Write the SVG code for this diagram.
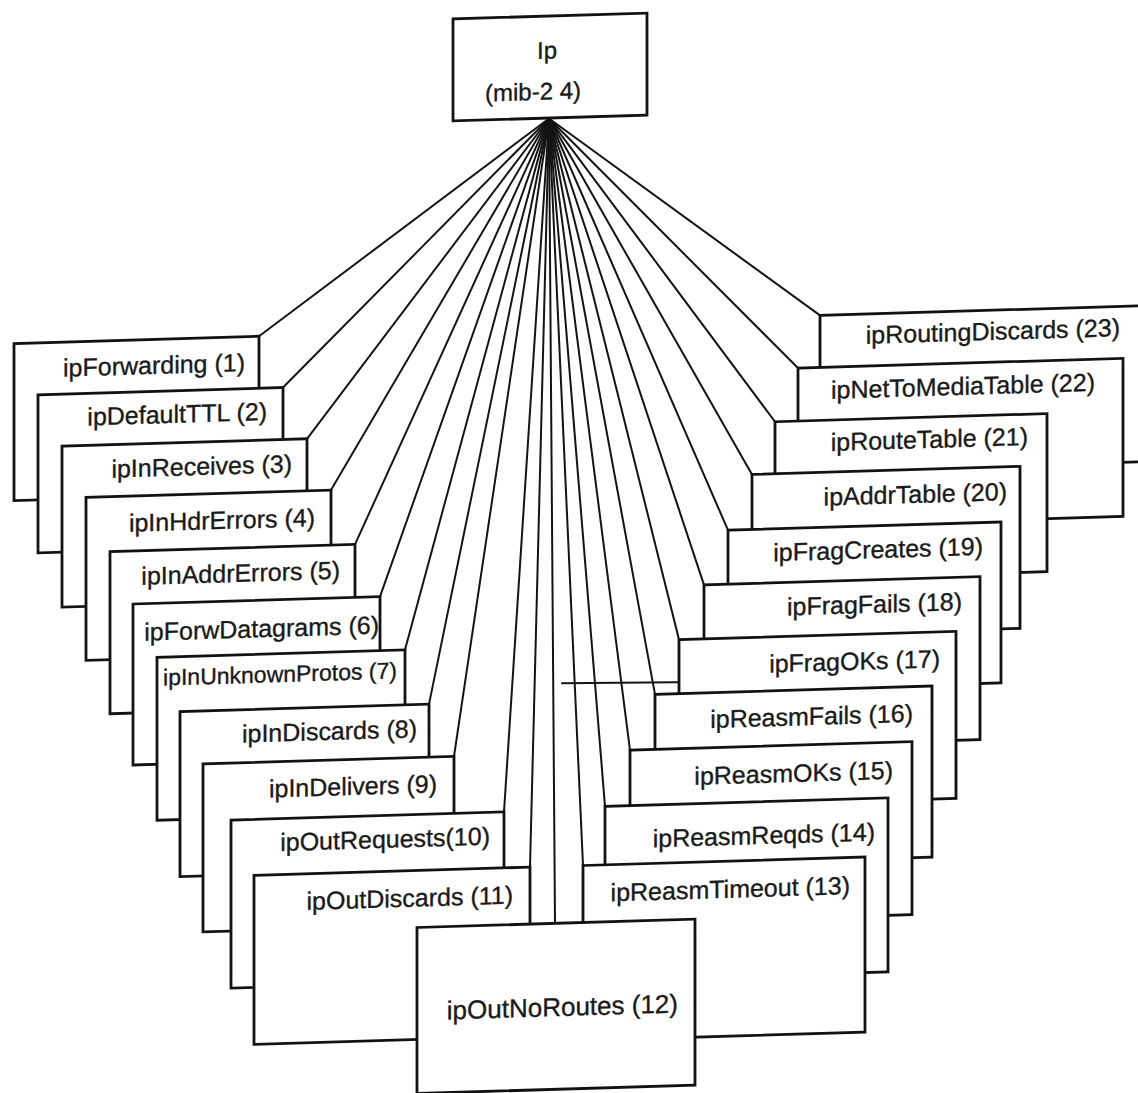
<svg xmlns="http://www.w3.org/2000/svg" width="1138" height="1093" viewBox="0 0 1138 1093">
  <style>
    .box { fill: #ffffff; stroke: #121212; stroke-width: 2.8; }
    .lbl { font-family: "Liberation Sans", Arial, sans-serif; font-size: 25px; fill: #1a1a1a; stroke: #1a1a1a; stroke-width: 0.35; text-anchor: end; }
    .small { font-size: 23px; }
    .big { font-size: 26px; }
    .mid { text-anchor: middle; font-size: 24px; }
    .edge { stroke: #141414; stroke-width: 2; fill: none; stroke-linecap: round; }
  </style>
  <rect x="0" y="0" width="1138" height="1093" fill="#ffffff"/>

  <!-- the whole tree sits on a slightly sheared page -->
  <g transform="skewY(-1.718)">

    <!-- connectors: every child hangs from the bottom of the ip node -->
    <g id="connectors">
      <path class="edge" d="M549 135 L259 344"/>
      <path class="edge" d="M549 135 L283 396"/>
      <path class="edge" d="M549 135 L307 448"/>
      <path class="edge" d="M549 135 L331 500"/>
      <path class="edge" d="M549 135 L355 555"/>
      <path class="edge" d="M549 135 L380 608"/>
      <path class="edge" d="M549 135 L405 662"/>
      <path class="edge" d="M549 135 L429 717"/>
      <path class="edge" d="M549 135 L454 770"/>
      <path class="edge" d="M549 135 L504 827"/>
      <path class="edge" d="M549 135 L530 883"/>
      <path class="edge" d="M549 135 L555 940"/>
      <path class="edge" d="M549 135 L583 883"/>
      <path class="edge" d="M549 135 L605 824.5"/>
      <path class="edge" d="M549 135 L630 769"/>
      <path class="edge" d="M549 135 L655 714"/>
      <path class="edge" d="M549 135 L679 660"/>
      <path class="edge" d="M549 135 L704 606"/>
      <path class="edge" d="M549 135 L728 552"/>
      <path class="edge" d="M549 135 L752 497"/>
      <path class="edge" d="M549 135 L775 445"/>
      <path class="edge" d="M549 135 L798 392"/>
      <path class="edge" d="M549 135 L820 340"/>
      <path class="edge" d="M562 700 L703 703"/>
    </g>

    <!-- root -->
    <g id="node-ip">
      <rect class="box" x="453" y="32.5" width="194" height="102"/>
      <text class="lbl mid" x="547" y="75">Ip</text>
      <text class="lbl mid" x="533" y="116">(mib-2 4)</text>
    </g>

    <!-- right-hand stack, back to front -->
    <g id="node-23">
      <rect class="box" x="820" y="340" width="340" height="156"/>
      <text class="lbl" x="1120" y="369.7">ipRoutingDiscards (23)</text>
    </g>
    <g id="node-22">
      <rect class="box" x="798" y="392" width="325" height="158"/>
      <text class="lbl" x="1095" y="423.7">ipNetToMediaTable (22)</text>
    </g>
    <g id="node-21">
      <rect class="box" x="775" y="445" width="272" height="158"/>
      <text class="lbl" x="1028" y="475.8">ipRouteTable (21)</text>
    </g>
    <g id="node-20">
      <rect class="box" x="752" y="497" width="268" height="162"/>
      <text class="lbl" x="1007" y="530.3">ipAddrTable (20)</text>
    </g>
    <g id="node-19">
      <rect class="box" x="728" y="552" width="273" height="161"/>
      <text class="lbl" x="983" y="584.4">ipFragCreates (19)</text>
    </g>
    <g id="node-18">
      <rect class="box" x="704" y="606" width="276" height="163"/>
      <text class="lbl" x="962" y="639">ipFragFails (18)</text>
    </g>
    <g id="node-17">
      <rect class="box" x="679" y="660" width="277" height="167"/>
      <text class="lbl" x="940" y="695.5">ipFragOKs (17)</text>
    </g>
    <g id="node-16">
      <rect class="box" x="655" y="714" width="277" height="171"/>
      <text class="lbl" x="913" y="749.3">ipReasmFails (16)</text>
    </g>
    <g id="node-15">
      <rect class="box" x="630" y="769" width="282" height="173"/>
      <text class="lbl" x="893" y="805.7">ipReasmOKs (15)</text>
    </g>
    <g id="node-14">
      <rect class="box" x="605" y="824.5" width="283" height="174"/>
      <text class="lbl" x="875" y="866.8">ipReasmReqds (14)</text>
    </g>
    <g id="node-13">
      <rect class="box" x="583" y="883" width="282" height="175"/>
      <text class="lbl" x="850" y="919.6">ipReasmTimeout (13)</text>
    </g>

    <!-- left-hand stack, back to front -->
    <g id="node-1">
      <rect class="box" x="14" y="344" width="245" height="157"/>
      <text class="lbl" x="245" y="378.5">ipForwarding (1)</text>
    </g>
    <g id="node-2">
      <rect class="box" x="38" y="396" width="245" height="158"/>
      <text class="lbl" x="267" y="428">ipDefaultTTL (2)</text>
    </g>
    <g id="node-3">
      <rect class="box" x="62" y="448" width="245" height="161"/>
      <text class="lbl" x="292" y="481">ipInReceives (3)</text>
    </g>
    <g id="node-4">
      <rect class="box" x="86" y="500" width="245" height="163"/>
      <text class="lbl" x="315" y="535.6">ipInHdrErrors (4)</text>
    </g>
    <g id="node-5">
      <rect class="box" x="110" y="555" width="245" height="162"/>
      <text class="lbl" x="340" y="589">ipInAddrErrors (5)</text>
    </g>
    <g id="node-6">
      <rect class="box" x="133" y="608" width="247" height="161"/>
      <text class="lbl" x="379" y="645">ipForwDatagrams (6)</text>
    </g>
    <g id="node-7">
      <rect class="box" x="157" y="662" width="248" height="163"/>
      <text class="lbl small" x="397" y="690.4">ipInUnknownProtos (7)</text>
    </g>
    <g id="node-8">
      <rect class="box" x="180" y="717" width="249" height="165"/>
      <text class="lbl" x="417" y="749.8">ipInDiscards (8)</text>
    </g>
    <g id="node-9">
      <rect class="box" x="203" y="770" width="251" height="168"/>
      <text class="lbl" x="437" y="805.5">ipInDelivers (9)</text>
    </g>
    <g id="node-10">
      <rect class="box" x="231" y="827" width="273" height="168"/>
      <text class="lbl" x="490" y="859.4">ipOutRequests(10)</text>
    </g>
    <g id="node-11">
      <rect class="box" x="254" y="883" width="276" height="169"/>
      <text class="lbl" x="513" y="919">ipOutDiscards (11)</text>
    </g>

    <!-- front-most child -->
    <g id="node-12">
      <rect class="box" x="417" y="940" width="278" height="166"/>
      <text class="lbl big" x="678" y="1032.8">ipOutNoRoutes (12)</text>
    </g>
  </g>
</svg>
